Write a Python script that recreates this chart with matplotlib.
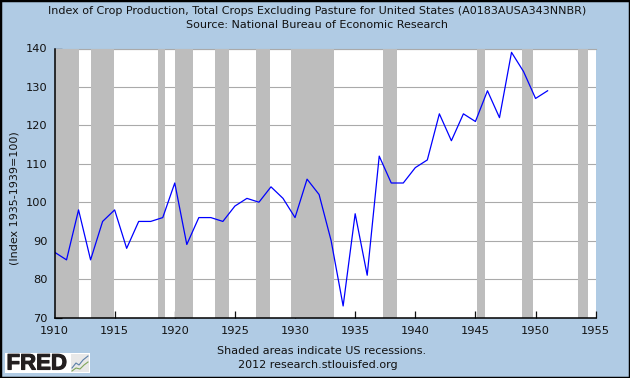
import matplotlib
matplotlib.use("Agg")
import matplotlib.pyplot as plt
import matplotlib.patheffects as pe
from matplotlib.patches import Rectangle

plt.rcParams['font.family'] = ['DejaVu Sans']

years = list(range(1910, 1952))
index_values = [87, 85, 98, 85, 95, 98, 88, 95, 95, 96, 105, 89, 96, 96, 95, 99, 101, 100,
                104, 101, 96, 106, 102, 90, 73, 97, 81, 112, 105, 105, 109, 111, 123, 116,
                123, 121, 129, 122, 139, 134, 127, 129]
recession_starts = [1910.0, 1913.0, 1918.6, 1920.04, 1923.33, 1926.77, 1929.63, 1937.35, 1945.1, 1948.87, 1953.5]
recession_ends = [1912.04, 1914.97, 1919.2, 1921.5, 1924.5, 1927.88, 1933.2, 1938.5, 1945.79, 1949.8, 1954.4]
x_ticks = list(range(1910, 1956, 5))
y_ticks = list(range(70, 141, 10))
title = "Index of Crop Production, Total Crops Excluding Pasture for United States (A0183AUSA343NNBR)"
source = "Source: National Bureau of Economic Research"
y_label = "(Index 1935-1939=100)"
note1 = "Shaded areas indicate US recessions."
note2 = "2012 research.stlouisfed.org"

W, H = 630, 378
BG = "#B0CBE4"
fig = plt.figure(figsize=(W / 100, H / 100), dpi=100, facecolor=BG)
fig.add_artist(Rectangle((0, 0), 1, 1, transform=fig.transFigure, fill=False, ec="black", lw=2.5))

L, R, T, B = 54.5, 595.7, 48.5, 317.5
ax = fig.add_axes([L / W, 1 - B / H, (R - L) / W, (B - T) / H])
ax.set_xlim(1910, 1955)
ax.set_ylim(70, 140)
ax.set_axisbelow(True)
ax.grid(axis="y", color="#AAAAAA", lw=0.8)
for s, e in zip(recession_starts, recession_ends):
    ax.axvspan(s, e, color="#BDBDBD", lw=0, zorder=1.5)
ax.plot(years, index_values, color="#0000FF", lw=0.9, zorder=3)
for side in ("top", "right"):
    ax.spines[side].set_visible(False)
for side in ("left", "bottom"):
    ax.spines[side].set_linewidth(1.1)
    ax.spines[side].set_zorder(4)
ax.set_xticks(x_ticks)
ax.set_yticks(y_ticks)
ax.tick_params(axis="both", direction="in", length=5, width=0.9, labelsize=8.2, colors="#111111", zorder=4)
ax.tick_params(axis="x", pad=6)
ax.tick_params(axis="y", pad=5)
ax.axhline(140, color="#AAAAAA", lw=0.8, zorder=1, clip_on=False)

fs = 8.05
fig.text(317 / W, 1 - 11 / H, title, ha="center", va="center", fontsize=fs, color="#111111")
fig.text(317 / W, 1 - 25 / H, source, ha="center", va="center", fontsize=fs, color="#111111")
fig.text(14.5 / W, 1 - 198 / H, y_label, rotation=90, ha="center", va="center", fontsize=fs, color="#111111")
fig.text(321.5 / W, 1 - 351 / H, note1, ha="center", va="center", fontsize=fs, color="#111111")
fig.text(317.5 / W, 1 - 365 / H, note2, ha="center", va="center", fontsize=fs, color="#111111")

# FRED logo
fig.add_artist(Rectangle((5 / W, 1 - 373 / H), 85 / W, 20 / H, transform=fig.transFigure, fc="white", ec="none"))
logo = fig.text(6.5 / W, 1 - 364 / H, "FRED", ha="left", va="center", fontsize=16, fontweight="bold",
                color="#231F20", family="Liberation Sans")
logo.set_path_effects([pe.withStroke(linewidth=0.8, foreground="#231F20")])
fig.add_artist(Rectangle((71 / W, 1 - 372 / H), 18 / W, 18 / H, transform=fig.transFigure, fc="#E8E8E8", ec="none"))
fig.add_artist(plt.Line2D([72 / W, 76 / W, 79 / W, 83 / W, 88 / W], [1 - 368 / H, 1 - 363 / H, 1 - 365 / H, 1 - 360 / H, 1 - 356 / H], color="#5B7FA8", lw=0.8))
fig.add_artist(plt.Line2D([72 / W, 76 / W, 80 / W, 84 / W, 88 / W], [1 - 371 / H, 1 - 368 / H, 1 - 369 / H, 1 - 365 / H, 1 - 362 / H], color="#7FA65A", lw=0.8))

fig.savefig("out.png", dpi=100, facecolor=BG)
